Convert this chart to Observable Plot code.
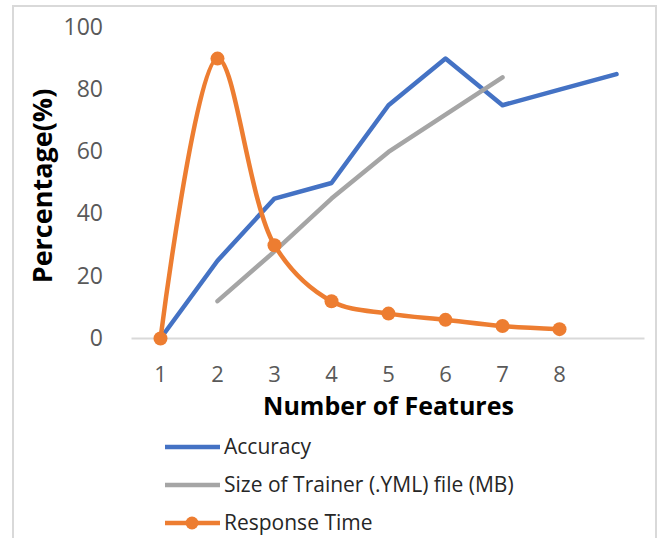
<!DOCTYPE html>
<html>
<head>
<meta charset="utf-8">
<script src="https://cdn.jsdelivr.net/npm/d3@7"></script>
<script src="https://cdn.jsdelivr.net/npm/@observablehq/plot@0.6"></script>
<style>
  html, body { margin: 0; padding: 0; background: #fff; }
  #wrap { position: relative; width: 665px; height: 538px; overflow: hidden; font-family: "Open Sans", sans-serif; }
  #frame { position: absolute; left: 12px; top: 5px; width: 645px; height: 560px; border: 2px solid #d9d9d9; box-sizing: border-box; }
  #chart { position: absolute; left: 0; top: 0; }
  #legend { position: absolute; left: 0; top: 425px; }
</style>
</head>
<body>
<div id="wrap">
  <div id="frame"></div>
  <div id="chart"></div>
  <div id="legend"></div>
</div>
<script>
// Number of features on the x axis
const features = [1, 2, 3, 4, 5, 6, 7, 8, 9];
const tickLabels = [1, 2, 3, 4, 5, 6, 7, 8];
// Series values (percent); null where a series has no value
const accuracy = [0, 25, 45, 50, 75, 90, 75, 80, 85];
const trainerSize = [null, 12, 28, 45, 60, 72, 84, null, null];
const responseTime = [0, 90, 30, 12, 8, 6, 4, 3, null];
const yTicks = [0, 20, 40, 60, 80, 100];

const seriesNames = ["Accuracy", "Size of Trainer (.YML) file (MB)", "Response Time"];
const seriesColors = ["#4472c4", "#a5a5a5", "#ed7d31"];

const toRows = (vals) => features.map((f, i) => ({f, v: vals[i]})).filter(d => d.v != null);
const accRows = toRows(accuracy);
const sizeRows = toRows(trainerSize);
const respRows = toRows(responseTime);

const font = "Open Sans, sans-serif";

const chart = Plot.plot({
  width: 665,
  height: 425,
  marginLeft: 131.5,
  marginRight: 20.5,
  marginTop: 27,
  marginBottom: 87,
  style: {fontFamily: font, background: "transparent", overflow: "visible"},
  x: {domain: [0.5, 9.5]},
  y: {domain: [0, 100]},
  marks: [
    Plot.ruleY([0], {stroke: "#d9d9d9", strokeWidth: 2}),
    Plot.axisY({ticks: yTicks, tickSize: 0, tickPadding: 29, fontSize: 23, color: "#595959", label: null}),
    Plot.axisX({ticks: tickLabels, tickSize: 0, tickPadding: 28, fontSize: 22, color: "#595959", label: null}),
    Plot.line(accRows, {x: "f", y: "v", stroke: seriesColors[0], strokeWidth: 4.5}),
    Plot.line(sizeRows, {x: "f", y: "v", stroke: seriesColors[1], strokeWidth: 4.5}),
    Plot.line(respRows, {x: "f", y: "v", stroke: seriesColors[2], strokeWidth: 4.5, curve: "catmull-rom"}),
    Plot.dot(respRows, {x: "f", y: "v", fill: seriesColors[2], r: 7}),
    Plot.text(["Number of Features"], {frameAnchor: "bottom", dy: 76, fontSize: 25, fontWeight: "bold", fill: "#000"}),
    Plot.text(["Percentage(%)"], {frameAnchor: "left", textAnchor: "middle", dx: -89, dy: 3, rotate: -90, fontSize: 27, fontWeight: "bold", fill: "#000"})
  ]
});
document.getElementById("chart").appendChild(chart);

// Legend below the plot
const lg = d3.select("#legend").append("svg").attr("width", 665).attr("height", 113);
const rowY = [22, 60, 98];
seriesNames.forEach((name, i) => {
  const g = lg.append("g").attr("transform", `translate(0,${rowY[i]})`);
  g.append("line").attr("x1", 165).attr("x2", 220).attr("stroke", seriesColors[i]).attr("stroke-width", 4.5);
  if (i === 2) g.append("circle").attr("cx", 192).attr("r", 6.5).attr("fill", seriesColors[i]);
  g.append("text").attr("x", 224).attr("dy", "0.35em").attr("font-family", font).attr("font-size", 21)
    .attr("fill", "#262626").text(name);
});
</script>
</body>
</html>
